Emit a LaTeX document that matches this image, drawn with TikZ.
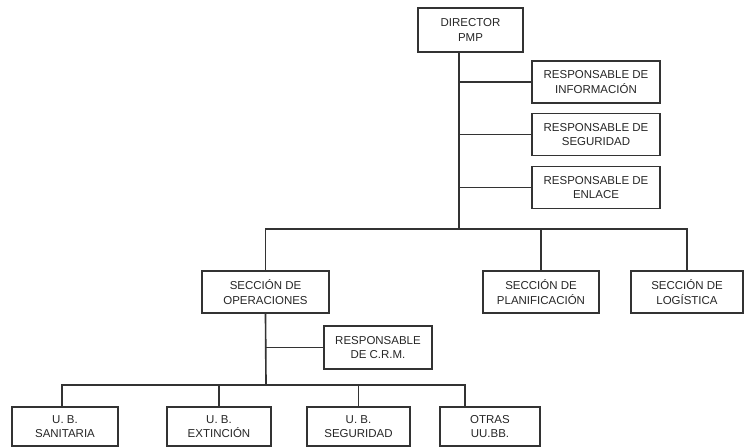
\documentclass[tikz,border=0pt]{standalone}
\usepackage{fontspec}
\setmainfont{Liberation Sans}
\usepackage{tikz}

\begin{document}
\begin{tikzpicture}[
x=0.03cm, y=-0.03cm,
box/.style={draw=black!80, line width=1.2pt, fill=white, align=center, inner sep=2pt, text=black!85, font=\fontsize{9.8}{12.5}\selectfont},
resp/.style={box, minimum width=3.84cm, minimum height=1.26cm},
sec/.style={box, minimum height=1.26cm},
unit/.style={box, minimum height=1.17cm},
link/.style={draw=black!80, line width=1.4pt} ]

\useasboundingbox (0,0) rectangle (747,448);

\node[box, minimum width=3.15cm, minimum height=1.32cm](dir) at (470.5,30) {DIRECTOR\\PMP};

\node[resp](info) at (596,82) {RESPONSABLE DE\\INFORMACIÓN};

\node[resp](segr) at (596,134.5) {RESPONSABLE DE\\SEGURIDAD};

\node[resp](enl) at (596,187.5) {RESPONSABLE DE\\ENLACE};

\coordinate (bar) at (459,229);

\node[sec, minimum width=3.81cm](ops) at (265.5,292) {SECCIÓN DE\\OPERACIONES};

\node[sec, minimum width=3.48cm](plan) at (541,292) {SECCIÓN DE\\PLANIFICACIÓN};

\node[sec, minimum width=3.36cm](log) at (687,292) {SECCIÓN DE\\LOGÍSTICA};

\node[box, minimum width=3.24cm, minimum height=1.29cm](crm) at (378,347.5) {RESPONSABLE\\DE C.R.M.};

\coordinate (ubar) at (266,385);

\node[unit, minimum width=3.18cm](san) at (65,426.5) {U. B.\\SANITARIA};

\node[unit, minimum width=3.12cm](ext) at (219,426.5) {U. B.\\EXTINCIÓN};

\node[unit, minimum width=3.09cm](segu) at (358.5,426.5) {U. B.\\SEGURIDAD};

\node[unit, minimum width=3.0cm](otr) at (490,426.5) {OTRAS\\UU.BB.};

\draw[link] (bar |- dir.south) -- (bar);

\draw[link] (bar |- info.west) -- (info.west);

\draw[link] (bar |- segr.west) -- (segr.west);

\draw[link] (bar |- enl.west) -- (enl.west);

\draw[link] (ops.north) |- (bar) -| (log.north);

\draw[link] (bar -| plan.north) -- (plan.north);

\draw[link] (ops.south) -- (ubar);

\draw[link] (ubar |- crm.west) -- (crm.west);

\draw[link] ([xshift=-0.09cm]san.north) |- (ubar) -| ([xshift=-0.75cm]otr.north);

\draw[link] (ubar -| ext.north) -- (ext.north);

\draw[link] (ubar -| segu.north) -- (segu.north);

\end{tikzpicture}
\end{document}
